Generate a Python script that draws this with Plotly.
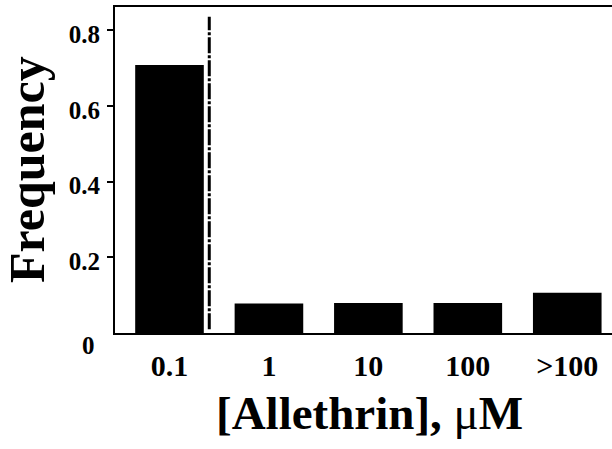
import plotly.graph_objects as go

categories = ["0.1", "1", "10", "100", ">100"]
frequency = [0.708, 0.078, 0.079, 0.079, 0.106]
y_ticks = [0.2, 0.4, 0.6, 0.8]
y_tick_labels = ["0.2", "0.4", "0.6", "0.8"]

SERIF = "Liberation Serif, Times New Roman, serif"

fig = go.Figure()
fig.add_trace(go.Bar(
    x=list(range(len(categories))),
    y=frequency,
    marker=dict(color="black", line=dict(width=0)),
    width=0.69,
    showlegend=False,
))

# dash-dot divider line between first and second category
fig.add_shape(type="line", xref="x", yref="y",
              x0=0.4, x1=0.4, y0=0.01, y1=0.835,
              line=dict(color="black", width=3, dash="16px,2px,3px,2px"))

# axis titles and the lone "0" label placed as annotations
fig.add_annotation(xref="paper", yref="paper", x=-0.177, y=0.5,
                   text="<b>Frequency</b>", textangle=-90, showarrow=False,
                   font=dict(family=SERIF, size=50, color="black"),
                   xanchor="center", yanchor="middle")
fig.add_annotation(xref="paper", yref="paper", x=0.513, y=-0.246,
                   text="<b>[Allethrin], </b>μ<b>M</b>", showarrow=False,
                   font=dict(family=SERIF, size=47, color="black"),
                   xanchor="center", yanchor="middle")
fig.add_annotation(xref="paper", yref="paper", x=-0.036, y=-0.037,
                   text="<b>0</b>", showarrow=False,
                   font=dict(family=SERIF, size=25, color="black"),
                   xanchor="right", yanchor="middle")

fig.update_layout(
    width=612, height=449,
    margin=dict(l=115, r=0, t=7, b=116),
    paper_bgcolor="white", plot_bgcolor="white",
    font=dict(family=SERIF, color="black"),
    xaxis=dict(
        range=[-0.548, 4.45],
        tickmode="array",
        tickvals=list(range(len(categories))),
        ticktext=categories,
        tickfont=dict(family=SERIF, size=30, color="black", weight="bold"),
        ticks="", ticklen=0, ticklabelstandoff=5,
        showline=True, linecolor="black", linewidth=2, mirror=True,
        showgrid=False, zeroline=False, automargin=False,
    ),
    yaxis=dict(
        range=[0, 0.861],
        tickmode="array",
        tickvals=y_ticks,
        ticktext=y_tick_labels,
        tickfont=dict(family=SERIF, size=25, color="black", weight="bold"),
        ticks="outside", ticklen=6, tickwidth=2, tickcolor="black",
        ticklabelstandoff=2, ticklabelshift=4,
        showline=True, linecolor="black", linewidth=2,
        showgrid=False, zeroline=False, automargin=False,
    ),
)

fig.write_html("out.html", config={"displayModeBar": False},
               post_script="document.body.style.margin='0';document.body.style.overflow='hidden';")
